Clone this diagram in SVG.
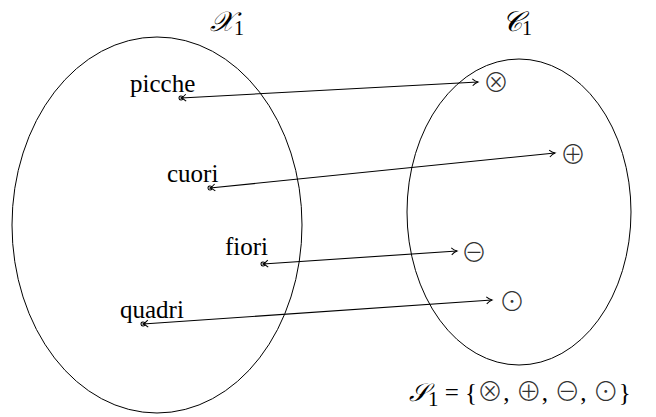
<svg xmlns="http://www.w3.org/2000/svg" width="656" height="417" viewBox="0 0 656 417">
<defs>
<marker id="head" markerWidth="10" markerHeight="10" refX="8" refY="5" orient="auto" markerUnits="userSpaceOnUse">
<path d="M2.5 1.5 Q5 4 8 5 Q5 6 2.5 8.5" fill="none" stroke="#000" stroke-width="1"/>
</marker>
<marker id="tail" markerWidth="12" markerHeight="10" refX="3" refY="5" orient="auto" markerUnits="userSpaceOnUse">
<circle cx="3" cy="5" r="2" fill="none" stroke="#000" stroke-width="1"/>
<path d="M8 1.5 Q5.5 4 3 5 Q5.5 6 8 8.5" fill="none" stroke="#000" stroke-width="1"/>
</marker>
</defs>
<style>
.set{fill:none;stroke:#000;stroke-width:1}
.lbl{font-family:"Liberation Serif","DejaVu Serif",serif;font-size:25px;fill:#000}
.sym{font-family:"Noto Sans CJK SC","DejaVu Sans",sans-serif;font-size:26px;font-weight:300;fill:#333}
.title{font-family:"Liberation Serif","DejaVu Serif",serif;font-size:28px;font-style:italic;fill:#000}
.conn{fill:none;stroke:#000;stroke-width:1.1;marker-start:url(#tail);marker-end:url(#head)}
</style>
<g id="set-X1">
<ellipse class="set" cx="157" cy="225" rx="145" ry="188"/>
<text class="title" x="210" y="31">𝒳<tspan font-style="normal" font-size="20" dy="4">1</tspan></text>
</g>
<g id="set-C1">
<ellipse class="set" cx="519" cy="212" rx="112" ry="153"/>
<text class="title" x="502" y="31">𝒞<tspan font-style="normal" font-size="20" dy="4">1</tspan></text>
</g>
<g id="node-picche"><text class="lbl" x="130" y="92">picche</text></g>
<g id="node-cuori"><text class="lbl" x="167" y="182">cuori</text></g>
<g id="node-fiori"><text class="lbl" x="225" y="255">fiori</text></g>
<g id="node-quadri"><text class="lbl" x="120" y="318">quadri</text></g>
<g id="node-otimes"><text class="sym" x="496" y="92" text-anchor="middle">⊗</text></g>
<g id="node-oplus"><text class="sym" x="573" y="164" text-anchor="middle">⊕</text></g>
<g id="node-ominus"><text class="sym" x="474" y="262" text-anchor="middle">⊖</text></g>
<g id="node-odot"><text class="sym" x="512" y="311" text-anchor="middle">⊙</text></g>
<g id="connectors">
<line class="conn" x1="181" y1="98" x2="478" y2="82"/>
<line class="conn" x1="210" y1="188" x2="555" y2="153"/>
<line class="conn" x1="263" y1="264" x2="457" y2="251"/>
<line class="conn" x1="143" y1="324" x2="492" y2="300"/>
</g>
<g id="formula">
<text class="lbl" x="409" y="401" font-size="31"><tspan font-style="italic">𝒮</tspan><tspan font-size="21" dy="5">1</tspan><tspan dy="-5"> = {</tspan><tspan class="sym" font-size="30">⊗</tspan>, <tspan class="sym" font-size="30">⊕</tspan>, <tspan class="sym" font-size="30">⊖</tspan>, <tspan class="sym" font-size="30">⊙</tspan>}</text>
</g>
</svg>
